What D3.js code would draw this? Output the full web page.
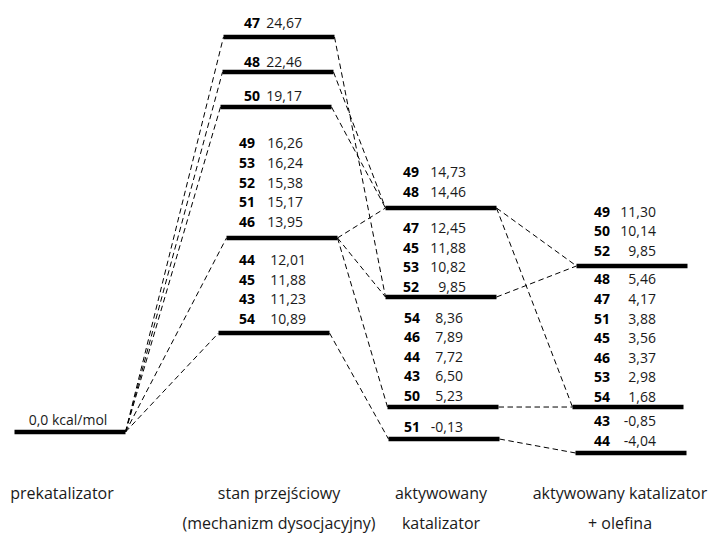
<!DOCTYPE html>
<html>
<head>
<meta charset="utf-8">
<script src="https://d3js.org/d3.v7.min.js"></script>
<style>
  body { margin: 0; background: #fff; }
  text { font-family: 'Open Sans', sans-serif; }
</style>
</head>
<body>
<div id="chart"></div>
<script>
// Columns of the diagram
let columnNames = [
    ['prekatalizator'],
    ['stan przejściowy', '(mechanizm dysocjacyjny)'],
    ['aktywowany', 'katalizator'],
    ['aktywowany katalizator', '+ olefina']
];

// Energy levels (drawn height in kcal/mol)
let levelColumn = [0, 1, 1, 1, 1, 1, 2, 2, 2, 2, 3, 3, 3];
let levelEnergy = [0, 24.67, 22.48, 20.30, 12.12, 6.18, 13.99, 8.43, 1.56, -0.44, 10.37, 1.56, -1.31];

// Structures labelled on each level
let levelIds = [
    [],
    ['47'], ['48'], ['50'],
    ['49', '53', '52', '51', '46'],
    ['44', '45', '43', '54'],
    ['49', '48'],
    ['47', '45', '53', '52'],
    ['54', '46', '44', '43', '50'],
    ['51'],
    ['49', '50', '52'],
    ['48', '47', '51', '45', '46', '53', '54'],
    ['43', '44']
];
let levelValues = [
    [],
    [24.67], [22.46], [19.17],
    [16.26, 16.24, 15.38, 15.17, 13.95],
    [12.01, 11.88, 11.23, 10.89],
    [14.73, 14.46],
    [12.45, 11.88, 10.82, 9.85],
    [8.36, 7.89, 7.72, 6.50, 5.23],
    [-0.13],
    [11.30, 10.14, 9.85],
    [5.46, 4.17, 3.88, 3.56, 3.37, 2.98, 1.68],
    [-0.85, -4.04]
];

// Dashed connections between levels (from, to)
let links = [
    [0, 1], [0, 2], [0, 3], [0, 4], [0, 5],
    [1, 7], [2, 6], [3, 6], [4, 6], [4, 7], [4, 8], [5, 9],
    [6, 10], [6, 11], [7, 10], [8, 11], [9, 12]
];

// Layout
let width = 712, height = 535;
let colCenter = [71, 278, 442, 630];
let colLabelX = [62, 279, 441, 620];
let levelWidth = 111;
let levelShift = [-1, 1, 0, -2, 4, -4, -1, -1, 1, 2, 2, -2, 1];
let labelGap = [12, 14, 10, 11, 16, 14, 16, 10, 11, 12, 15, 10, 12];
let idX = [0, 244, 244, 244, 239, 239, 403, 403, 404, 404, 594, 594, 594];
let valEnd = [0, 302, 302, 302, 303, 306, 466, 466, 463, 463, 656, 656, 656];
let rowStep = 19.6;

let svg = d3.select('#chart')
    .append('svg')
    .attr('width', width)
    .attr('height', height);

let y = d3.scaleLinear()
    .domain([0, 24.67])
    .range([432, 37]);

let fmt = d3.format('.2f');
function comma(v) { return fmt(v).replace('.', ',').replace('\u2212', '-'); }

function x0(i) { return colCenter[levelColumn[i]] + levelShift[i] - levelWidth / 2; }
function x1(i) { return colCenter[levelColumn[i]] + levelShift[i] + levelWidth / 2; }

// Dashed connectors
svg.append('g')
    .selectAll('line')
    .data(links)
    .enter()
    .append('line')
    .attr('x1', d => x1(d[0]))
    .attr('y1', d => y(levelEnergy[d[0]]))
    .attr('x2', d => x0(d[1]))
    .attr('y2', d => y(levelEnergy[d[1]]))
    .attr('stroke', '#000')
    .attr('stroke-width', 1)
    .attr('stroke-dasharray', '5.5,3.5');

// Levels
svg.append('g')
    .selectAll('line')
    .data(levelEnergy)
    .enter()
    .append('line')
    .attr('x1', (d, i) => x0(i))
    .attr('x2', (d, i) => x1(i))
    .attr('y1', d => y(d))
    .attr('y2', d => y(d))
    .attr('stroke', '#000')
    .attr('stroke-width', 4.5);

// Level labels
let labels = svg.append('g');
levelIds.forEach(function(ids, i) {
    let base = y(levelEnergy[i]) - labelGap[i];
    ids.forEach(function(id, k) {
        let cy = base - (ids.length - 1 - k) * rowStep;
        labels.append('text')
            .attr('x', idX[i])
            .attr('y', cy)
            .attr('dy', '0.35em')
            .attr('font-size', '14px')
            .attr('font-weight', 'bold')
            .attr('fill', '#000')
            .text(id);
        labels.append('text')
            .attr('x', valEnd[i])
            .attr('y', cy)
            .attr('dy', '0.35em')
            .attr('text-anchor', 'end')
            .attr('font-size', '14px')
            .attr('fill', '#1a1a1a')
            .text(comma(levelValues[i][k]));
    });
});

// Reference level label
labels.append('text')
    .attr('x', 68)
    .attr('y', y(levelEnergy[0]) - labelGap[0])
    .attr('dy', '0.35em')
    .attr('text-anchor', 'middle')
    .attr('font-size', '14px')
    .attr('fill', '#1a1a1a')
    .text(d3.format('.1f')(levelEnergy[0]).replace('.', ',') + ' kcal/mol');

// Column names
columnNames.forEach(function(lines, c) {
    lines.forEach(function(t, k) {
        svg.append('text')
            .attr('x', colLabelX[c])
            .attr('y', 493 + k * 30)
            .attr('dy', '0.35em')
            .attr('text-anchor', 'middle')
            .attr('font-size', '16px')
            .attr('fill', '#1a1a1a')
            .text(t);
    });
});
</script>
</body>
</html>
